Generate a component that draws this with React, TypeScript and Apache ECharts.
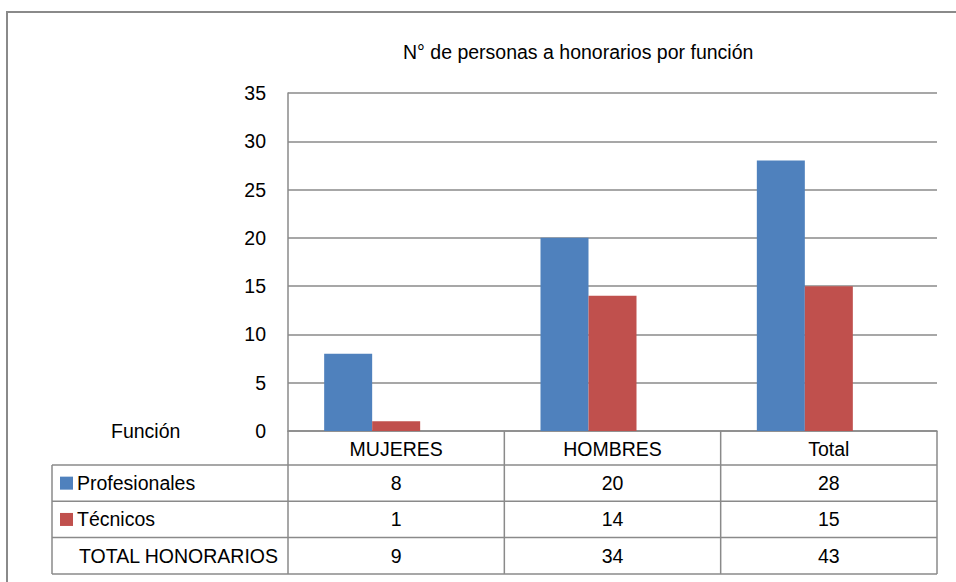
import React, { useEffect, useRef } from "react";
import * as echarts from "echarts";

const categories = ["MUJERES", "HOMBRES", "Total"];
const profesionales = [8, 20, 28];
const tecnicos = [1, 14, 15];
const totalHonorarios = [9, 34, 43];
const rowLabels = ["Profesionales", "Técnicos", "TOTAL HONORARIOS"];
const seriesColors = ["#4F81BD", "#C0504D", "rgba(0,0,0,0)"];
const yMin = 0;
const yMax = 35;
const yInterval = 5;
const titleText = "N° de personas a honorarios por función";
const cornerLabel = "Función";

const FONT = "'Liberation Sans', Arial, Helvetica, sans-serif";
const FS = 19.5;
const LINE = "#8a8a8a";

export default function App() {
  const ref = useRef<HTMLDivElement>(null);

  useEffect(() => {
    document.body.style.margin = "0";
    if (!ref.current) return;
    const chart = echarts.init(ref.current, null, { renderer: "svg" });

    const gridLeft = 288;
    const gridRight = 956 - 937;
    const gridTop = 93;
    const gridBottom = 582 - 431;

    const rows = [profesionales, tecnicos, totalHonorarios];

    chart.setOption({
      animation: false,
      textStyle: { fontFamily: FONT },
      title: {
        text: titleText,
        left: 403,
        top: 42,
        padding: 0,
        textStyle: { fontSize: FS, fontWeight: "normal", color: "#000", fontFamily: FONT },
      },
      grid: { left: gridLeft, right: gridRight, top: gridTop, bottom: gridBottom, containLabel: false },
      xAxis: {
        type: "category",
        data: categories,
        axisLine: { show: true, lineStyle: { color: LINE, width: 1.5 } },
        axisTick: { show: false },
        axisLabel: { color: "#000", fontSize: FS, fontFamily: FONT, margin: 8 },
      },
      yAxis: {
        type: "value",
        min: yMin,
        max: yMax,
        interval: yInterval,
        axisLine: { show: true, lineStyle: { color: LINE, width: 1.5 } },
        axisTick: { show: false },
        axisLabel: { color: "#000", fontSize: FS, fontFamily: FONT, margin: 22 },
        splitLine: { show: true, lineStyle: { color: LINE, width: 1.5 } },
      },
      series: rows.map((vals, i) => ({
        name: rowLabels[i],
        type: "bar",
        data: vals,
        barWidth: 48,
        barGap: "0%",
        clip: true,
        itemStyle: { color: seriesColors[i] },
      })),
    });

    // Build the data table from the axis scales
    const centers = categories.map((c) => chart.convertToPixel({ xAxisIndex: 0 }, c) as number);
    const band = centers.length > 1 ? centers[1] - centers[0] : 216;
    const leftX = centers[0] - band / 2;
    const rightX = centers[centers.length - 1] + band / 2;
    const y0 = chart.convertToPixel({ yAxisIndex: 0 }, 0) as number;
    const headerH = 34;
    const rowH = 36.3;
    const tableLeft = 52;
    const rowTops = [0, 1, 2, 3].map((i) => y0 + headerH + i * rowH);
    const tableBottom = rowTops[3];

    const lineStyle = { stroke: LINE, lineWidth: 1.5 };
    const g: any[] = [];
    g.push({
      type: "rect",
      shape: { x: 7, y: 12, width: 1200, height: 1200 },
      style: { fill: "none", stroke: LINE, lineWidth: 2 },
      z: 0,
    });
    const vx = [leftX, ...centers.map((c) => c + band / 2)];
    vx.forEach((x) => {
      g.push({ type: "line", shape: { x1: x, y1: y0, x2: x, y2: tableBottom }, style: lineStyle });
    });
    g.push({ type: "line", shape: { x1: tableLeft, y1: rowTops[0], x2: tableLeft, y2: tableBottom }, style: lineStyle });
    rowTops.forEach((y) => {
      g.push({ type: "line", shape: { x1: tableLeft, y1: y, x2: rightX, y2: y }, style: lineStyle });
    });
    rows.forEach((vals, r) => {
      const cy = rowTops[r] + rowH / 2;
      if (r < 2) {
        g.push({
          type: "rect",
          shape: { x: 60, y: cy - 6.5, width: 13, height: 13 },
          style: { fill: seriesColors[r] },
        });
      }
      g.push({
        type: "text",
        style: {
          text: rowLabels[r],
          x: r < 2 ? 77 : 79,
          y: cy,
          align: "left",
          verticalAlign: "middle",
          fontSize: FS,
          fontFamily: FONT,
          fill: "#000",
        },
      });
      vals.forEach((v, i) => {
        g.push({
          type: "text",
          style: {
            text: String(v),
            x: centers[i],
            y: cy,
            align: "center",
            verticalAlign: "middle",
            fontSize: FS,
            fontFamily: FONT,
            fill: "#000",
          },
        });
      });
    });
    g.push({
      type: "text",
      style: {
        text: cornerLabel,
        x: 111,
        y: y0,
        align: "left",
        verticalAlign: "middle",
        fontSize: FS,
        fontFamily: FONT,
        fill: "#000",
      },
    });

    chart.setOption({ graphic: g });

    return () => chart.dispose();
  }, []);

  return <div ref={ref} style={{ width: 956, height: 582 }} />;
}
